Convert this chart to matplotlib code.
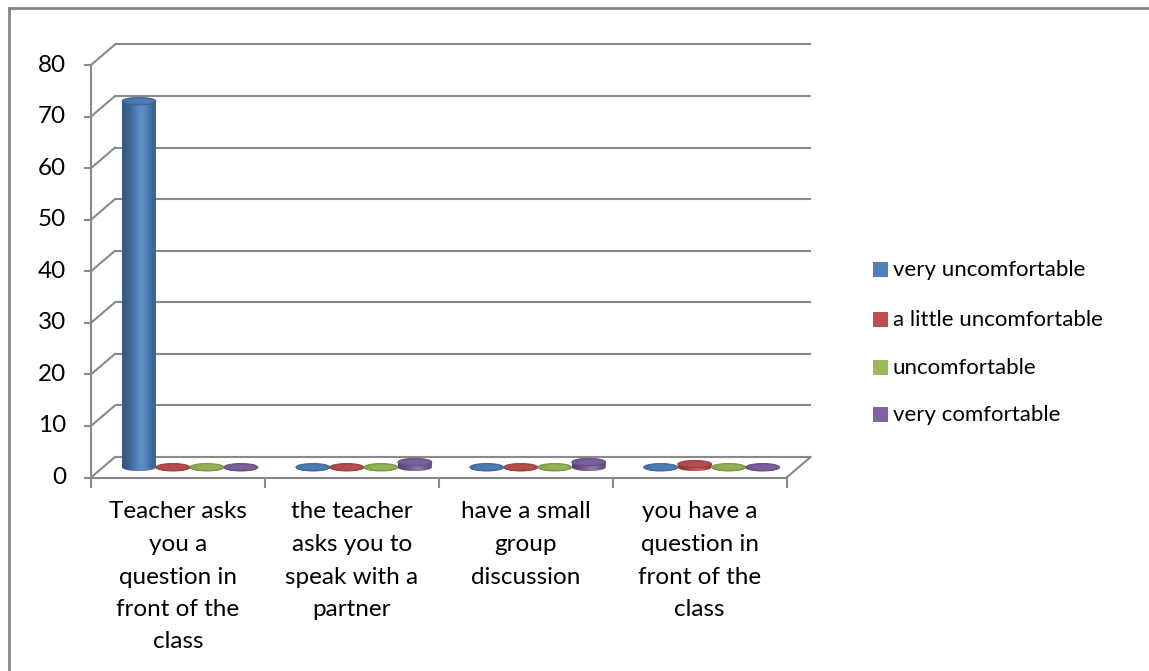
import numpy as np
import matplotlib
matplotlib.use("Agg")
import matplotlib.pyplot as plt
from matplotlib.patches import PathPatch, Ellipse, Rectangle
from matplotlib.path import Path
from matplotlib.colors import to_rgb
from matplotlib.lines import Line2D

# ---- data -------------------------------------------------------------
categories = [
    "Teacher asks\nyou a\nquestion in\nfront of the\nclass",
    "the teacher\nasks you to\nspeak with a\npartner",
    "have a small\ngroup\ndiscussion",
    "you have a\nquestion in\nfront of the\nclass",
]
series_names = ["very uncomfortable", "a little uncomfortable",
                "uncomfortable", "very comfortable"]
very_uncomfortable = [71, 0, 0, 0]
little_uncomfortable = [0, 0, 0, 0.6]
uncomfortable = [0, 0, 0, 0]
very_comfortable = [0, 1, 1, 0]
series_values = [very_uncomfortable, little_uncomfortable,
                 uncomfortable, very_comfortable]
series_colors = ["#4F81BD", "#C0504D", "#9BBB59", "#8064A2"]
y_ticks = [0, 10, 20, 30, 40, 50, 60, 70, 80]

# ---- layout (pixels of the 1149 x 671 canvas) -------------------------
W, H = 1149, 671
X0, Y0 = 91.0, 477.5          # front-left corner of the floor
PXC = 173.9                   # pixels per category
PXV = (477.5 - 65.0) / 80.0   # pixels per value unit
DX = 24.0 / PXC               # depth shift (data units)
DY = 20.5 / PXV
BW = 34.0 / PXC               # cylinder diameter
EH = 3.8 / PXV                # half height of cylinder ellipses

GRID = "#8a8a8a"
FONT = "Lato"
FS_LEG = 16
FS_CAT = 17.5

fig = plt.figure(figsize=(W / 100, H / 100), dpi=100)
ax = fig.add_axes([0, 0, 1, 1])
ax.set_xlim(-X0 / PXC, (W - X0) / PXC)
ax.set_ylim((Y0 - H) / PXV, Y0 / PXV)
ax.axis("off")


def fig_xy(px, py):
    return px / W, 1 - py / H


# outer chart border (left and top edges)
fig.add_artist(Line2D([9 / W, 9 / W], [0, 1 - 8 / H], color="#868686",
                      lw=2.0, transform=fig.transFigure))
fig.add_artist(Line2D([9 / W, 1], [1 - 8 / H, 1 - 8 / H], color="#868686",
                      lw=2.0, transform=fig.transFigure))

ncat = len(categories)

# back wall gridlines and left side wall
for v in y_ticks:
    ax.plot([DX, ncat + DX], [v + DY, v + DY], color=GRID, lw=1.5,
            solid_capstyle="butt", zorder=1)
    ax.plot([0, DX], [v, v + DY], color=GRID, lw=1.5, zorder=1)
    ax.plot([-6 / PXC, 0], [v, v], color=GRID, lw=1.5, zorder=1)
    ax.text(-25 / PXC, v, str(v), ha="right", va="center", fontsize=FS_CAT,
            family=FONT, color="black")

# floor edges
ax.plot([0, ncat], [0, 0], color=GRID, lw=1.5, zorder=1)
ax.plot([ncat, ncat + DX], [0, DY], color=GRID, lw=1.5, zorder=1)
ax.plot([0, 0], [0, y_ticks[-1]], color=GRID, lw=1.5, zorder=1)
for k in range(ncat + 1):
    ax.plot([k, k], [0, -9 / PXV], color=GRID, lw=1.5, zorder=1)


def shade(color, f):
    c = np.array(to_rgb(color))
    if f <= 1:
        return c * f
    return c + (1 - c) * (f - 1)


def cylinder(xc, base, height, color, z):
    hw = BW / 2
    top = base + height
    th = np.linspace(np.pi, 2 * np.pi, 40)
    arc_x = xc + hw * np.cos(th)
    arc_y = base + EH * np.sin(th)
    verts = [(xc - hw, top), (xc - hw, base)]
    verts += list(zip(arc_x, arc_y))
    verts += [(xc + hw, top), (xc - hw, top)]
    codes = [Path.MOVETO] + [Path.LINETO] * (len(verts) - 2) + [Path.CLOSEPOLY]
    body = PathPatch(Path(verts, codes), facecolor="none", edgecolor="none",
                     zorder=z)
    ax.add_patch(body)
    t = np.linspace(0, 1, 64)
    prof = 0.68 + 0.42 * np.exp(-((t - 0.58) / 0.3) ** 2)
    grad = np.array([[shade(color, f) for f in prof]])
    im = ax.imshow(grad, extent=(xc - hw, xc + hw, base - EH, top),
                   aspect="auto", interpolation="bilinear", zorder=z,
                   origin="lower")
    im.set_clip_path(body)
    # top cap
    cap = Ellipse((xc, top), BW, 2 * EH, facecolor=shade(color, 0.9),
                  edgecolor=shade(color, 0.75), lw=0.6, zorder=z + 0.5)
    ax.add_patch(cap)
    cap2 = Ellipse((xc + hw * 0.1, top), BW * 0.7, 2 * EH * 0.6,
                   facecolor=shade(color, 1.02), edgecolor="none",
                   alpha=0.5, zorder=z + 0.6)
    ax.add_patch(cap2)


z = 3
for i in range(ncat):
    for j, vals in enumerate(series_values):
        xc = i + 0.5 + (j - 1.5) * BW + DX / 2
        cylinder(xc, DY / 2, vals[i], series_colors[j], z)
        z += 1

# category labels
for i, lab in enumerate(categories):
    for n, line in enumerate(lab.split("\n")):
        ax.text(i + 0.5, (Y0 - (512 + 32.5 * n)) / PXV, line, ha="center",
                va="center", fontsize=FS_CAT, family=FONT, color="black")

# legend
leg_y = [270, 320, 368, 415]
for name, col, py in zip(series_names, series_colors, leg_y):
    x, y = fig_xy(873, py + 7)
    fig.add_artist(Rectangle((x, y), 15 / W, 15 / H, facecolor=col,
                             edgecolor="none", transform=fig.transFigure))
    tx, ty = fig_xy(893, py)
    fig.text(tx, ty, name, ha="left", va="center", fontsize=FS_LEG,
             family=FONT, color="black")

fig.savefig("out.png", dpi=100, facecolor="white")
